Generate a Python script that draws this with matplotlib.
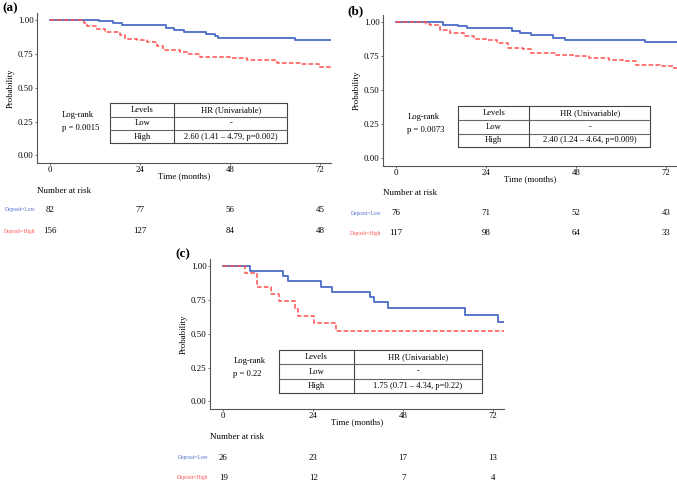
import matplotlib
matplotlib.use("Agg")
import matplotlib.pyplot as plt
from matplotlib.transforms import blended_transform_factory

plt.rcParams['font.family'] = ['Liberation Serif', 'DejaVu Serif']

W, H = 677, 483
BLUE = '#4a6bc8'
RED = '#ff5050'

# ---- data ----
# panel (a)
a_low_t = [0, 12.9, 16.8, 19.1, 30.8, 32.9, 35.6, 41.6, 44.0, 44.9, 65.3, 74.9]
a_low_s = [1.0, 0.993, 0.98, 0.965, 0.941, 0.924, 0.909, 0.897, 0.882, 0.868, 0.848, 0.848]
a_high_t = [0, 8.0, 8.9, 9.8, 12.4, 14.7, 18.7, 20.0, 23.1, 25.8, 28.4, 30.2, 34.7, 36.4,
            40.0, 48.0, 52.4, 57.8, 60.4, 66.7, 71.6, 74.9]
a_high_s = [1.0, 0.995, 0.975, 0.958, 0.934, 0.909, 0.889, 0.860, 0.853, 0.836, 0.804, 0.779,
            0.762, 0.75, 0.725, 0.718, 0.706, 0.70, 0.684, 0.676, 0.651, 0.64]
a_risk_low = [82, 77, 56, 45]
a_risk_high = [156, 127, 84, 48]

# panel (b)
b_low_t = [0, 12.5, 16.6, 18.9, 31.0, 32.9, 36.0, 41.9, 44.9, 66.3, 74.9]
b_low_s = [1.0, 0.983, 0.971, 0.96, 0.937, 0.92, 0.907, 0.888, 0.871, 0.852, 0.852]
b_high_t = [0, 8.0, 8.9, 11.7, 14.4, 18.0, 20.7, 24.3, 27.0, 29.7, 33.8, 36.0, 42.4, 47.8,
            51.4, 56.8, 60.4, 64.0, 70.4, 74.0, 74.9]
b_high_s = [1.0, 0.99, 0.98, 0.944, 0.919, 0.902, 0.875, 0.866, 0.851, 0.81, 0.802, 0.773,
            0.761, 0.748, 0.736, 0.724, 0.712, 0.683, 0.675, 0.663, 0.663]
b_risk_low = [76, 71, 52, 43]
b_risk_high = [117, 98, 64, 33]

# panel (c)
c_low_t = [0, 7.1, 16.0, 17.2, 26.2, 29.1, 39.2, 40.1, 44.0, 64.4, 73.2, 74.9]
c_low_s = [1.0, 0.962, 0.923, 0.885, 0.846, 0.808, 0.769, 0.731, 0.688, 0.638, 0.587, 0.587]
c_high_t = [0, 5.9, 9.0, 12.8, 14.9, 19.1, 19.9, 24.1, 30.2, 74.9]
c_high_s = [1.0, 0.947, 0.842, 0.789, 0.737, 0.684, 0.632, 0.575, 0.517, 0.517]
c_risk_low = [26, 23, 17, 13]
c_risk_high = [19, 12, 7, 4]

risk_times = [0, 24, 48, 72]
hr_rows = ['Levels', 'Low', 'High']
a_hr = ['HR (Univariable)', '-', '2.60 (1.41 \u2013 4.79, p=0.002)']
b_hr = ['HR (Univariable)', '-', '2.40 (1.24 \u2013 4.64, p=0.009)']
c_hr = ['HR (Univariable)', '-', '1.75 (0.71 \u2013 4.34, p=0.22)']
a_p = 'p = 0.0015'
b_p = 'p = 0.0073'
c_p = 'p = 0.22'

fig = plt.figure(figsize=(W / 100, H / 100), dpi=100)


def fx(px):
    return px / W


def fy(py):
    return 1 - py / H


def panel(label, left, top, lt, ls, ht, hs, rlow, rhigh, hr, ptxt, tab, lr, risk_y):
    ax = fig.add_axes([fx(left), fy(top + 150.5), fx(294), 150.5 / H])
    ax.step(lt, ls, where='post', color=BLUE, lw=1.3)
    ax.step(ht, hs, where='post', color=RED, lw=1.1, linestyle=(0, (3, 1.5)))
    ax.set_xlim(-3.5, 74.9)
    ax.set_ylim(-0.056, 1.054)
    ax.set_xticks(risk_times)
    ax.set_yticks([0, 0.25, 0.5, 0.75, 1.0])
    ax.set_yticklabels(['0.00', '0.25', '0.50', '0.75', '1.00'])
    for s in ['top', 'right']:
        ax.spines[s].set_visible(False)
    for s in ['left', 'bottom']:
        ax.spines[s].set_color('#555555')
        ax.spines[s].set_linewidth(0.8)
    ax.tick_params(labelsize=6.3, length=1.5, width=0.6, color='#555555', pad=1)
    ax.set_xlabel('Time (months)', fontsize=6.3, labelpad=-1.5)
    ax.set_ylabel('Probability', fontsize=6.3, labelpad=2)

    # log-rank text
    ax.text(lr[0], lr[1], 'Log-rank', fontsize=6.2, va='center')
    ax.text(lr[0], lr[1] - 0.097, ptxt, fontsize=6.2, va='center')

    # HR table
    x0, xm, x1, y0, y1 = tab
    ax.plot([x0, x1, x1, x0, x0], [y0, y0, y1, y1, y0], color='#444444', lw=0.8)
    ax.plot([xm, xm], [y0, y1], color='#444444', lw=0.8)
    rh = (y1 - y0) / 3
    for k in (1, 2):
        ax.plot([x0, x1], [y1 - k * rh, y1 - k * rh], color='#666666', lw=0.8)
    for k in range(3):
        yc = y1 - (k + 0.5) * rh
        ax.text((x0 + xm) / 2, yc, hr_rows[k], fontsize=6.1, ha='center', va='center')
        ax.text((xm + x1) / 2, yc, hr[k], fontsize=6.1, ha='center', va='center')

    # panel label
    fig.text(fx(left - 27), fy(top - 4), label, fontsize=9.5, fontweight='bold',
             ha='center', va='center')

    # number at risk
    tr = blended_transform_factory(ax.transData, fig.transFigure)
    fig.text(fx(left), fy(risk_y[0]), 'Number at risk', fontsize=6.4, va='center')
    fig.text(fx(left - 2), fy(risk_y[1]), 'Deposit=Low', fontsize=4, color=BLUE,
             ha='right', va='center')
    fig.text(fx(left - 2), fy(risk_y[2]), 'Deposit=High', fontsize=4, color=RED,
             ha='right', va='center')
    for t, n1, n2 in zip(risk_times, rlow, rhigh):
        ax.text(t, fy(risk_y[1]), str(n1), transform=tr, fontsize=6.4, ha='center', va='center')
        ax.text(t, fy(risk_y[2]), str(n2), transform=tr, fontsize=6.4, ha='center', va='center')
    return ax


panel('(a)', 37, 12.5, a_low_t, a_low_s, a_high_t, a_high_s, a_risk_low, a_risk_high,
      a_hr, a_p, (16.0, 33.1, 63.2, 0.09, 0.385), (3.2, 0.296), (191, 210, 231))
panel('(b)', 383, 15, b_low_t, b_low_s, b_high_t, b_high_s, b_risk_low, b_risk_high,
      b_hr, b_p, (16.5, 35.5, 67.8, 0.08, 0.38), (3.0, 0.30), (193, 213, 233))
panel('(c)', 210, 258.5, c_low_t, c_low_s, c_high_t, c_high_s, c_risk_low, c_risk_high,
      c_hr, c_p, (14.8, 34.8, 69.0, 0.06, 0.381), (2.7, 0.30), (437, 458, 478))

fig.savefig('out.png', dpi=100)
